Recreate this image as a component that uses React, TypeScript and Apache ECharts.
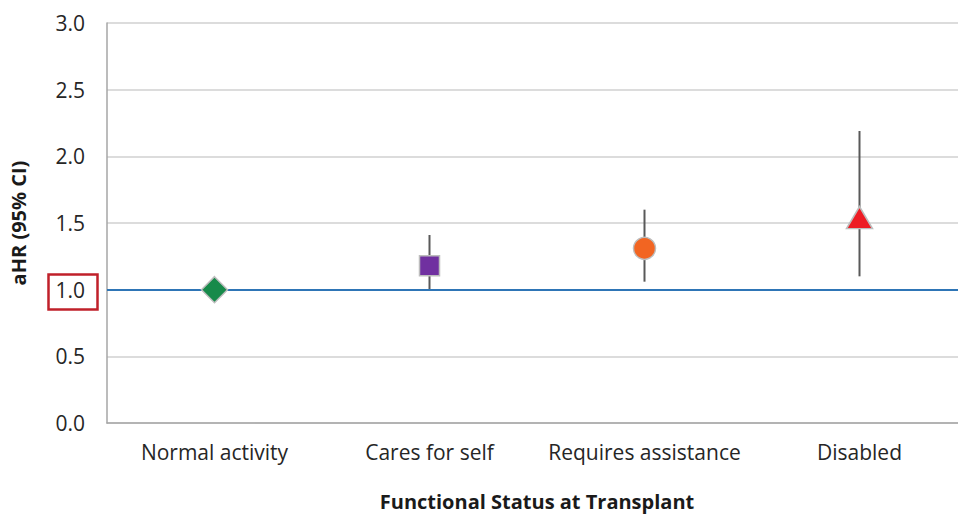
import React, { useEffect, useRef } from "react";
import * as echarts from "echarts";

const categories = ["Normal activity", "Cares for self", "Requires assistance", "Disabled"];
const estimates = [1.0, 1.18, 1.31, 1.54];
const lowerCI = [1.0, 1.0, 1.06, 1.1];
const upperCI = [1.0, 1.41, 1.6, 2.19];
const symbols = ["diamond", "rect", "circle", "triangle"];
const symbolSizes = [[26, 26], [20, 20], [22, 22], [26, 22]];
const colors = ["#178a4a", "#7030a0", "#f26522", "#ed1c24"];
const yTicks = { min: 0, max: 3, interval: 0.5 };

export default function App() {
  const ref = useRef<HTMLDivElement>(null);
  useEffect(() => {
    if (!ref.current) return;
    const chart = echarts.init(ref.current, null, { renderer: "svg" });
    const font = "'Open Sans', 'Liberation Sans', sans-serif";
    chart.setOption({
      animation: false,
      backgroundColor: "#ffffff",
      grid: { left: 107, width: 860, top: 23, height: 400, outerBoundsMode: "none", containLabel: false },
      xAxis: {
        type: "category",
        data: categories,
        name: "Functional Status at Transplant",
        nameLocation: "middle",
        nameGap: 68,
        nameTextStyle: { fontFamily: font, fontSize: 20, fontWeight: "bold", color: "#1a1a1a" },
        axisLine: { lineStyle: { color: "#a6a6a6", width: 1.5 } },
        axisTick: { show: false },
        axisLabel: { fontFamily: font, fontSize: 21, color: "#262626", margin: 18, interval: 0 },
        splitLine: { show: false },
      },
      yAxis: {
        type: "value",
        min: yTicks.min,
        max: yTicks.max,
        interval: yTicks.interval,
        name: "aHR (95% CI)",
        nameLocation: "middle",
        nameGap: 79,
        nameTextStyle: { fontFamily: font, fontSize: 20, fontWeight: "bold", color: "#1a1a1a" },
        axisLine: { show: true, lineStyle: { color: "#a6a6a6", width: 1.5 } },
        axisTick: { show: false },
        axisLabel: {
          fontFamily: font,
          fontSize: 21,
          color: "#262626",
          margin: 22,
          formatter: (v: number) => v.toFixed(1),
        },
        splitLine: { lineStyle: { color: "#d0d0d0", width: 1.5 } },
      },
      graphic: [
        {
          type: "rect",
          left: 46,
          top: 272,
          shape: { width: 49, height: 35 },
          style: { fill: "none", stroke: "#c0202a", lineWidth: 2.5 },
          z: 100,
        },
      ],
      series: [
        {
          type: "custom",
          z: 3,
          renderItem: (params: any, api: any) => {
            const x = api.value(0);
            const lo = api.coord([x, api.value(1)]);
            const hi = api.coord([x, api.value(2)]);
            return {
              type: "line",
              shape: { x1: lo[0], y1: lo[1], x2: hi[0], y2: hi[1] },
              style: { stroke: "#595959", lineWidth: 2 },
            };
          },
          data: categories.map((c, i) => [i, lowerCI[i], upperCI[i]]),
          encode: { x: 0, y: [1, 2] },
        },
        {
          type: "scatter",
          z: 5,
          data: categories.map((c, i) => ({
            value: [i, estimates[i]],
            symbol: symbols[i],
            symbolSize: symbolSizes[i],
            itemStyle: { color: colors[i], borderColor: "#bdbdbd", borderWidth: 1.5, opacity: 1 },
          })),
          markLine: {
            silent: true,
            symbol: "none",
            label: { show: false },
            lineStyle: { color: "#2e75b6", width: 2, type: "solid", opacity: 1 },
            data: [{ yAxis: 1 }],
            z: 4,
          },
        },
      ],
    });
    return () => chart.dispose();
  }, []);
  return (
    <div
      ref={ref}
      style={{ position: "fixed", left: 0, top: 0, width: 958, height: 515 }}
    />
  );
}
